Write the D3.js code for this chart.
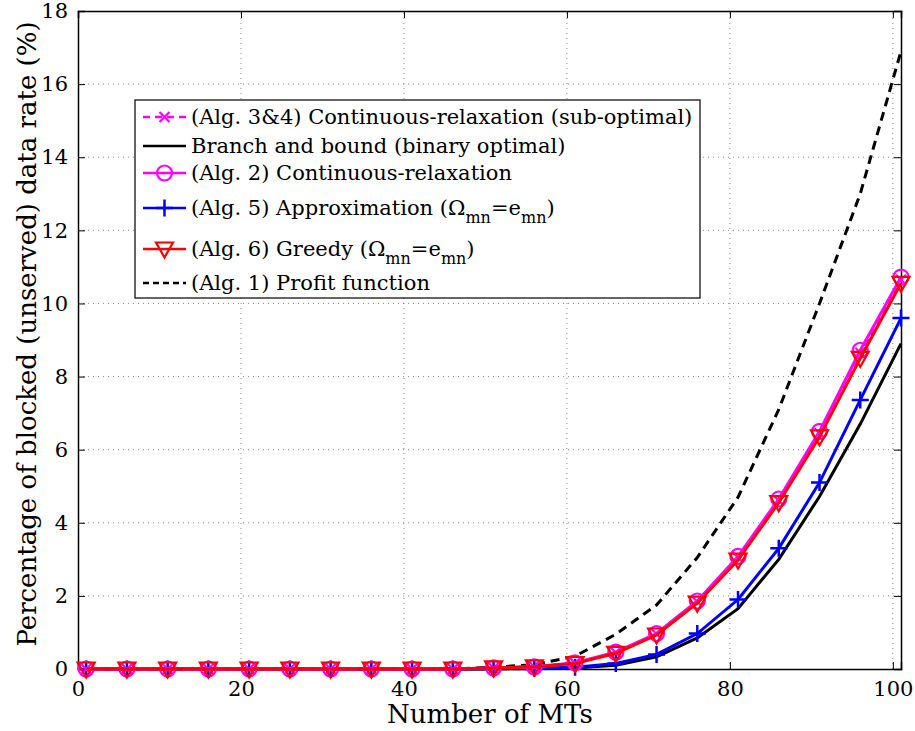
<!DOCTYPE html>
<html><head><meta charset="utf-8">
<script src="https://cdn.jsdelivr.net/npm/d3@7"></script>
<style>body{margin:0;background:#fff}svg{display:block}text{font-family:"DejaVu Serif",serif;fill:#000}</style>
</head><body>
<script>
const xs = [1,6,11,16,21,26,31,36,41,46,51,56,61,66,71,76,81,86,91,96,101];
const alg34 = [0,0,0,0,0,0,0,0,0,0,0.03,0.06,0.16,0.45,0.96,1.84,3.05,4.6,6.45,8.65,10.65];
const bnb   = [0,0,0,0,0,0,0,0,0,0,0,0.01,0.03,0.1,0.33,0.85,1.65,3.0,4.72,6.7,8.9];
const alg2  = [0,0,0,0,0,0,0,0,0,0,0.03,0.06,0.17,0.46,0.97,1.86,3.08,4.65,6.5,8.72,10.72];
const alg5  = [0,0,0,0,0,0,0,0,0,0,0.01,0.02,0.05,0.15,0.4,0.97,1.9,3.3,5.1,7.36,9.6];
const alg6  = [0,0,0,0,0,0,0,0,0,0,0.03,0.06,0.15,0.43,0.93,1.8,2.98,4.55,6.35,8.5,10.55];
const alg1  = [0,0,0,0,0,0,0,0,0,0,0.05,0.12,0.35,0.95,1.75,3.05,4.7,7.1,10.0,13.0,16.9];
const xTicks = [0,20,40,60,80,100];
const yTicks = [0,2,4,6,8,10,12,14,16,18];

const W=915,H=731, L=78, R=901, T=11, B=669;
const svg=d3.select("body").append("svg").attr("width",W).attr("height",H);
const x=d3.scaleLinear().domain([0,101]).range([L,R]);
const y=d3.scaleLinear().domain([0,18]).range([B,T]);

// grid
const grid=svg.append("g").attr("stroke","#888").attr("stroke-width",1).attr("stroke-dasharray","1,4");
xTicks.slice(1).forEach(t=>grid.append("line").attr("x1",x(t)).attr("x2",x(t)).attr("y1",B).attr("y2",T));
yTicks.slice(1,-1).forEach(t=>grid.append("line").attr("x1",L).attr("x2",R).attr("y1",y(t)).attr("y2",y(t)));

// axes with inner ticks
const fs="21px";
const ax=svg.append("g").attr("transform",`translate(0,${B})`).call(d3.axisBottom(x).tickValues(xTicks).tickSize(-7).tickPadding(12));
const ay=svg.append("g").attr("transform",`translate(${L},0)`).call(d3.axisLeft(y).tickValues(yTicks).tickSize(-7).tickPadding(10));
const ax2=svg.append("g").attr("transform",`translate(0,${T})`).call(d3.axisTop(x).tickValues(xTicks).tickSize(-7).tickFormat(""));
const ay2=svg.append("g").attr("transform",`translate(${R},0)`).call(d3.axisRight(y).tickValues(yTicks).tickSize(-7).tickFormat(""));
[ax,ay,ax2,ay2].forEach(g=>{g.select(".domain").attr("stroke","#000").attr("stroke-width",1.5);g.selectAll("line").attr("stroke","#000");g.selectAll("text").style("font-size",fs).style("font-family","DejaVu Serif").attr("fill","#000");});

svg.append("text").attr("x",490).attr("y",723).attr("text-anchor","middle").style("font-size","26px").text("Number of MTs");
svg.append("text").attr("transform",`translate(36,334) rotate(-90)`).attr("text-anchor","middle").style("font-size","26px").text("Percentage of blocked (unserved) data rate (%)");

const plot=svg.append("g");
const line=d3.line().x((d,i)=>x(xs[i])).y(d=>y(d));

function mk(g,type,cx,cy,color){
  if(type==="circle") g.append("circle").attr("cx",cx).attr("cy",cy).attr("r",7.5).attr("fill","none").attr("stroke",color).attr("stroke-width",2.2);
  if(type==="tri") g.append("path").attr("d",`M${cx-8.5},${cy-6.5}L${cx+8.5},${cy-6.5}L${cx},${cy+8.5}Z`).attr("fill","none").attr("stroke",color).attr("stroke-width",2.2);
  if(type==="plus") g.append("path").attr("d",`M${cx-8.5},${cy}H${cx+8.5}M${cx},${cy-8.5}V${cy+8.5}`).attr("stroke",color).attr("stroke-width",2.5);
  if(type==="x") g.append("path").attr("d",`M${cx-5},${cy-5}L${cx+5},${cy+5}M${cx-5},${cy+5}L${cx+5},${cy-5}`).attr("stroke",color).attr("stroke-width",2.2);
}
const series=[
 {d:alg1,c:"#000",dash:"9,6",m:null,w:3},
 {d:bnb,c:"#000",dash:null,m:null,w:3},
 {d:alg5,c:"#0000ff",dash:null,m:"plus",w:3},
 {d:alg2,c:"#ff00ff",dash:null,m:"circle",w:3},
 {d:alg34,c:"#ff00ff",dash:"7,5",m:"x",w:3},
 {d:alg6,c:"#ff0000",dash:null,m:"tri",w:3},
];
series.forEach(s=>{
  plot.append("path").datum(s.d).attr("d",line).attr("fill","none").attr("stroke",s.c).attr("stroke-width",s.w).attr("stroke-dasharray",s.dash);
  if(s.m){const g=plot.append("g");s.d.forEach((v,i)=>mk(g,s.m,x(xs[i]),y(v),s.c));}
});

// legend
const lg=svg.append("g");
lg.append("rect").attr("x",135).attr("y",100).attr("width",565).attr("height",198).attr("fill","#fff").attr("stroke","#000").attr("stroke-width",1.2);
const items=[
 {y:117,c:"#ff00ff",dash:"7,5",m:"x",t:"(Alg. 3&4) Continuous-relaxation (sub-optimal)"},
 {y:146,c:"#000",dash:null,m:null,t:"Branch and bound (binary optimal)"},
 {y:173,c:"#ff00ff",dash:null,m:"circle",t:"(Alg. 2) Continuous-relaxation"},
 {y:208,c:"#0000ff",dash:null,m:"plus",t:["(Alg. 5) Approximation (Ω","mn","=e","mn",")"]},
 {y:249,c:"#ff0000",dash:null,m:"tri",t:["(Alg. 6) Greedy (Ω","mn","=e","mn",")"]},
 {y:283,c:"#000",dash:"6,4",m:null,t:"(Alg. 1) Profit function"},
];
items.forEach(it=>{
  lg.append("line").attr("x1",143).attr("x2",186).attr("y1",it.y).attr("y2",it.y).attr("stroke",it.c).attr("stroke-width",2.5).attr("stroke-dasharray",it.dash);
  if(it.m) mk(lg,it.m,164.5,it.y,it.c);
  const tx=lg.append("text").attr("x",191).attr("y",it.y+7).style("font-size","21px");
  if(typeof it.t==="string") tx.text(it.t);
  else it.t.forEach((s,i)=>{const sp=tx.append("tspan").text(s);
    if(i%2===1) sp.attr("dy",8).style("font-size","16px");
    else if(i>0) sp.attr("dy",-8);});
});
</script>
</body></html>
